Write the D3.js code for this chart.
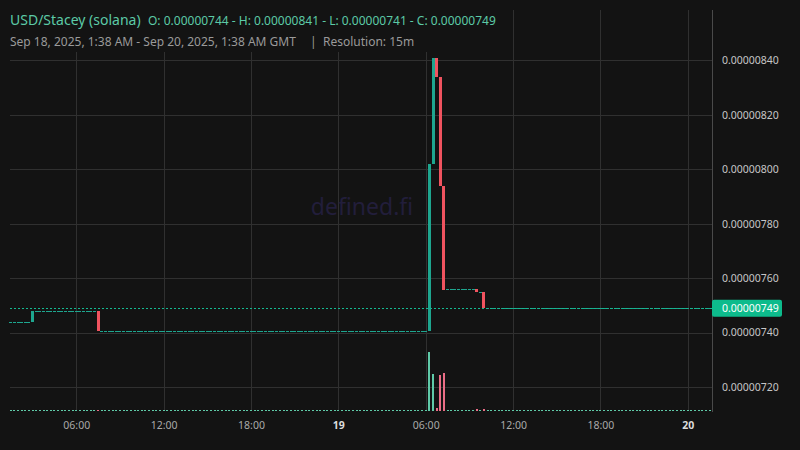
<!DOCTYPE html>
<html>
<head>
<meta charset="utf-8">
<script src="https://cdn.jsdelivr.net/npm/d3@7"></script>
<style>
  html, body { margin: 0; padding: 0; background: #131313; }
  svg { display: block; font-family: "Noto Sans", sans-serif; }
</style>
</head>
<body>
<div id="chart"></div>
<script>
// prices are written in units of 0.00000001 (1e-8)
const PRICE_UNIT = 1e-8;

// one candle every 15 minutes, Sep 18 01:30 -> Sep 20 01:30 GMT (193 candles)
const firstCandle = "2025-09-18T01:30:00Z";
const lastCandle = "2025-09-20T01:30:00Z";

const opens = [
  744, 744, 744, 744, 744, 744, 744,
  748, 748, 748, 748, 748, 748, 748, 748, 748, 748, 748, 748, 748, 748, 748, 748, 748,
  748,
  740.6, 740.6, 740.6, 740.6, 740.6, 740.6, 740.6, 740.6, 740.6, 740.6, 740.6, 740.6, 740.6, 740.6, 740.6,
  740.6, 740.6, 740.6, 740.6, 740.6, 740.6, 740.6, 740.6, 740.6, 740.6, 740.6, 740.6, 740.6, 740.6, 740.6,
  740.6, 740.6, 740.6, 740.6, 740.6, 740.6, 740.6, 740.6, 740.6, 740.6, 740.6, 740.6, 740.6, 740.6, 740.6,
  740.6, 740.6, 740.6, 740.6, 740.6, 740.6, 740.6, 740.6, 740.6, 740.6, 740.6, 740.6, 740.6, 740.6, 740.6,
  740.6, 740.6, 740.6, 740.6, 740.6, 740.6, 740.6, 740.6, 740.6, 740.6, 740.6, 740.6, 740.6, 740.6, 740.6,
  740.6, 740.6, 740.6, 740.6, 740.6, 740.6, 740.6, 740.6, 740.6, 740.6, 740.6, 740.6, 740.6, 740.6, 740.6,
  740.6, 802, 841, 834, 794,
  756, 756, 756, 756, 756, 756, 756, 756,
  756, 755, 755,
  749, 749, 749, 749, 749, 749, 749, 749, 749, 749, 749, 749, 749, 749, 749, 749,
  749, 749, 749, 749, 749, 749, 749, 749, 749, 749, 749, 749, 749, 749, 749, 749,
  749, 749, 749, 749, 749, 749, 749, 749, 749, 749, 749, 749, 749, 749, 749, 749,
  749, 749, 749, 749, 749, 749, 749, 749, 749, 749, 749, 749, 749, 749
];

const closes = [
  744, 744, 744, 744, 744, 744, 748,
  748, 748, 748, 748, 748, 748, 748, 748, 748, 748, 748, 748, 748, 748, 748, 748, 748,
  740.6,
  740.6, 740.6, 740.6, 740.6, 740.6, 740.6, 740.6, 740.6, 740.6, 740.6, 740.6, 740.6, 740.6, 740.6, 740.6,
  740.6, 740.6, 740.6, 740.6, 740.6, 740.6, 740.6, 740.6, 740.6, 740.6, 740.6, 740.6, 740.6, 740.6, 740.6,
  740.6, 740.6, 740.6, 740.6, 740.6, 740.6, 740.6, 740.6, 740.6, 740.6, 740.6, 740.6, 740.6, 740.6, 740.6,
  740.6, 740.6, 740.6, 740.6, 740.6, 740.6, 740.6, 740.6, 740.6, 740.6, 740.6, 740.6, 740.6, 740.6, 740.6,
  740.6, 740.6, 740.6, 740.6, 740.6, 740.6, 740.6, 740.6, 740.6, 740.6, 740.6, 740.6, 740.6, 740.6, 740.6,
  740.6, 740.6, 740.6, 740.6, 740.6, 740.6, 740.6, 740.6, 740.6, 740.6, 740.6, 740.6, 740.6, 740.6, 740.6,
  802, 841, 834, 794, 756,
  756, 756, 756, 756, 756, 756, 756, 756,
  755, 755, 749,
  749, 749, 749, 749, 749, 749, 749, 749, 749, 749, 749, 749, 749, 749, 749, 749,
  749, 749, 749, 749, 749, 749, 749, 749, 749, 749, 749, 749, 749, 749, 749, 749,
  749, 749, 749, 749, 749, 749, 749, 749, 749, 749, 749, 749, 749, 749, 749, 749,
  749, 749, 749, 749, 749, 749, 749, 749, 749, 749, 749, 749, 749, 749
];

// volume per candle (arbitrary units, only the spike around 06:15-07:15 on the 19th is visible)
const volumes = [
  0, 0, 0, 0, 0, 0, 3,
  0, 0, 0, 0, 0, 0, 0, 0, 0, 0, 0, 0, 0, 0, 0, 0, 0,
  12,
  0, 0, 0, 0, 0, 0, 0, 0, 0, 0, 0, 0, 0, 0, 0,
  0, 0, 0, 0, 0, 0, 0, 0, 0, 0, 0, 0, 0, 0, 0,
  0, 0, 0, 0, 0, 0, 0, 0, 0, 0, 0, 0, 0, 0, 0,
  0, 0, 0, 0, 0, 0, 0, 0, 0, 0, 0, 0, 0, 0, 0,
  0, 0, 0, 0, 0, 0, 0, 0, 0, 0, 0, 0, 0, 0, 0,
  0, 0, 0, 0, 0, 0, 0, 0, 0, 0, 0, 0, 0, 0, 0,
  590, 370, 30, 360, 380,
  0, 0, 0, 0, 0, 0, 0, 0,
  20, 0, 20,
  0, 0, 0, 0, 0, 0, 0, 0, 0, 0, 0, 0, 0, 0, 0, 0,
  0, 0, 0, 0, 0, 0, 0, 0, 0, 0, 0, 0, 0, 0, 0, 0,
  0, 0, 0, 0, 0, 0, 0, 0, 0, 0, 0, 0, 0, 0, 0, 0,
  0, 0, 0, 0, 0, 0, 0, 0, 0, 0, 0, 0, 0, 0
];

const priceTicks = [720, 740, 760, 780, 800, 820, 840];
const lastPrice = 749;

const timeTicks = ["2025-09-18T06:00Z", "2025-09-18T12:00Z", "2025-09-18T18:00Z", "2025-09-19T00:00Z",
                   "2025-09-19T06:00Z", "2025-09-19T12:00Z", "2025-09-19T18:00Z", "2025-09-20T00:00Z"];
const timeLabels = ["06:00", "12:00", "18:00", "19", "06:00", "12:00", "18:00", "20"];

const title = "USD/Stacey (solana)";
const ohlcText = "O: 0.00000744 - H: 0.00000841 - L: 0.00000741 - C: 0.00000749";
const rangeText = "Sep 18, 2025, 1:38 AM - Sep 20, 2025, 1:38 AM GMT";
const resolutionText = "Resolution: 15m";

/* sizes */
const width = 800, height = 450;
const pane = { left: 10, right: 712, top: 10, bottom: 411 };

const upColor = "#1ea68f";
const downColor = "#f0535f";

const svg = d3.select("#chart")
    .append("svg")
    .attr("width", width)
    .attr("height", height);

svg.append("rect").attr("width", width).attr("height", height).attr("fill", "#131313");

// build candle records
const times = d3.utcMinute.every(15).range(new Date(firstCandle), new Date(new Date(lastCandle).getTime() + 1));
const candles = times.map((t, i) => ({ t: t, o: opens[i], c: closes[i], v: volumes[i] }));

// scales
const xScale = d3.scaleUtc()
    .domain([new Date("2025-09-18T01:38:00Z"), new Date("2025-09-20T01:38:00Z")])
    .range([12.7, 711.6]);

const yScale = d3.scaleLinear()
    .domain([711.3, 858.5])
    .range([pane.bottom, pane.top]);

const vScale = d3.scaleLinear()
    .domain([0, d3.max(volumes)])
    .range([pane.bottom, pane.bottom - 59]);

// grid
const grid = svg.append("g").attr("shape-rendering", "crispEdges");
grid.selectAll(".hgrid")
    .data(priceTicks)
    .join("line")
    .attr("x1", pane.left)
    .attr("x2", pane.right)
    .attr("y1", d => Math.round(yScale(d)) + 0.5)
    .attr("y2", d => Math.round(yScale(d)) + 0.5)
    .attr("stroke", "#303030");

grid.selectAll(".vgrid")
    .data(timeTicks)
    .join("line")
    .attr("x1", d => Math.round(xScale(new Date(d))) + 0.5)
    .attr("x2", d => Math.round(xScale(new Date(d))) + 0.5)
    .attr("y1", pane.top)
    .attr("y2", pane.bottom)
    .attr("stroke", "#303030");

// watermark
svg.append("text")
    .attr("x", 362)
    .attr("y", 215)
    .attr("text-anchor", "middle")
    .attr("font-size", 23)
    .attr("fill", "#221e3b")
    .text("defined.fi");

// volume bars
svg.append("g")
    .attr("shape-rendering", "crispEdges")
    .selectAll("rect")
    .data(candles)
    .join("rect")
    .attr("x", d => Math.round(xScale(d.t) - 1))
    .attr("width", 2)
    .attr("y", d => Math.min(vScale(d.v), pane.bottom - 1))
    .attr("height", d => Math.max(1, pane.bottom - vScale(d.v)))
    .attr("fill", d => d.c >= d.o ? "#5fcaa8" : "#ea6d86");

// candles (no visible wicks at this resolution)
svg.append("g")
    .attr("shape-rendering", "crispEdges")
    .selectAll("rect")
    .data(candles)
    .join("rect")
    .attr("x", d => Math.round(xScale(d.t) - 1.5))
    .attr("width", 3)
    .attr("y", d => Math.round(yScale(Math.max(d.o, d.c))))
    .attr("height", d => Math.max(1, Math.round(Math.abs(yScale(d.o) - yScale(d.c)))))
    .attr("fill", d => d.c >= d.o ? upColor : downColor);

// last price line
svg.append("line")
    .attr("x1", pane.left)
    .attr("x2", pane.right)
    .attr("y1", Math.round(yScale(lastPrice)) + 0.5)
    .attr("y2", Math.round(yScale(lastPrice)) + 0.5)
    .attr("stroke", "#14b890")
    .attr("stroke-dasharray", "2,2");

// price axis border
svg.append("line")
    .attr("x1", pane.right + 0.5)
    .attr("x2", pane.right + 0.5)
    .attr("y1", pane.top)
    .attr("y2", pane.bottom + 1)
    .attr("stroke", "#4a4a4a");

// price labels
const priceFmt = v => (v * PRICE_UNIT).toFixed(8);
svg.append("g")
    .selectAll("text")
    .data(priceTicks)
    .join("text")
    .attr("x", 722)
    .attr("y", d => yScale(d))
    .attr("dy", "0.35em")
    .attr("font-size", 10.5)
    .attr("fill", "#c6c6c6")
    .text(d => priceFmt(d));

// last price tag
svg.append("rect")
    .attr("x", pane.right)
    .attr("y", yScale(lastPrice) - 8.5)
    .attr("width", 70)
    .attr("height", 17)
    .attr("rx", 2)
    .attr("fill", "#0dbb8c");
svg.append("text")
    .attr("x", 722)
    .attr("y", yScale(lastPrice))
    .attr("dy", "0.35em")
    .attr("font-size", 10.5)
    .attr("fill", "#ffffff")
    .text(priceFmt(lastPrice));

// time labels
svg.append("g")
    .selectAll("text")
    .data(timeTicks)
    .join("text")
    .attr("x", d => xScale(new Date(d)) + 0.5)
    .attr("y", 429)
    .attr("text-anchor", "middle")
    .attr("font-size", 10.5)
    .attr("font-weight", (d, i) => timeLabels[i].length === 2 ? "bold" : "normal")
    .attr("fill", (d, i) => timeLabels[i].length === 2 ? "#dcdcdc" : "#a9a9a9")
    .text((d, i) => timeLabels[i]);

// legend header (has its own background over the grid)
svg.append("rect")
    .attr("x", 0)
    .attr("y", 0)
    .attr("width", 505)
    .attr("height", 52)
    .attr("fill", "#131313");

svg.append("text")
    .attr("x", 10)
    .attr("y", 25)
    .attr("font-size", 14)
    .attr("fill", "#5ccaa7")
    .text(title);

svg.append("text")
    .attr("x", 148)
    .attr("y", 25)
    .attr("font-size", 12)
    .attr("fill", "#5ccaa7")
    .text(ohlcText);

svg.append("text")
    .attr("x", 10)
    .attr("y", 46)
    .attr("font-size", 12)
    .attr("fill", "#9a9a9a")
    .text(rangeText);

svg.append("text")
    .attr("x", 310)
    .attr("y", 46)
    .attr("font-size", 12)
    .attr("fill", "#9a9a9a")
    .text("|");

svg.append("text")
    .attr("x", 323)
    .attr("y", 46)
    .attr("font-size", 12)
    .attr("fill", "#9a9a9a")
    .text(resolutionText);
</script>
</body>
</html>
